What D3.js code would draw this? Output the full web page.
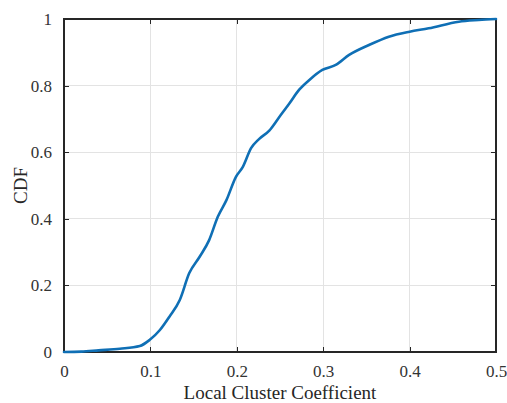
<!DOCTYPE html>
<html>
<head>
<meta charset="utf-8">
<script src="https://cdn.jsdelivr.net/npm/d3@7"></script>
<style>
  html, body { margin: 0; padding: 0; background: #fff; }
  svg { display: block; }
</style>
</head>
<body>
<svg id="chart" width="507" height="403"></svg>
<script>
// Empirical CDF of local cluster coefficients
const coeff = [0, 0.02, 0.04, 0.0646, 0.0877, 0.099, 0.111, 0.122, 0.134, 0.145, 0.157,
  0.168, 0.178, 0.188, 0.199, 0.207, 0.2165, 0.226, 0.2376, 0.249, 0.261, 0.272, 0.284,
  0.299, 0.3145, 0.33, 0.353, 0.376, 0.4, 0.422, 0.457, 0.48, 0.5];
const cdf = [0, 0.001, 0.005, 0.01, 0.018, 0.036, 0.066, 0.106, 0.156, 0.237, 0.286,
  0.336, 0.406, 0.456, 0.526, 0.556, 0.612, 0.64, 0.665, 0.705, 0.747, 0.787, 0.817,
  0.847, 0.862, 0.892, 0.922, 0.947, 0.962, 0.972, 0.992, 0.997, 1];
const xTicks = [0, 0.1, 0.2, 0.3, 0.4, 0.5];
const yTicks = [0, 0.2, 0.4, 0.6, 0.8, 1];

const margin = { left: 64, right: 11, top: 19, bottom: 51 };
const W = 507, H = 403;
const iw = W - margin.left - margin.right;
const ih = H - margin.top - margin.bottom;

const svg = d3.select("#chart");
const g = svg.append("g").attr("transform", `translate(${margin.left},${margin.top})`);

const x = d3.scaleLinear().domain([0, 0.5]).range([0, iw]);
const y = d3.scaleLinear().domain([0, 1]).range([ih, 0]);

const font = "Liberation Serif, Times New Roman, serif";
const axisColor = "#262626";

// grid
g.append("g").selectAll("line").data(xTicks).join("line")
  .attr("x1", d => x(d)).attr("x2", d => x(d))
  .attr("y1", 0).attr("y2", ih)
  .attr("stroke", "#e3e3e3").attr("stroke-width", 1).attr("shape-rendering", "crispEdges");
g.append("g").selectAll("line").data(yTicks).join("line")
  .attr("y1", d => y(d)).attr("y2", d => y(d))
  .attr("x1", 0).attr("x2", iw)
  .attr("stroke", "#e3e3e3").attr("stroke-width", 1).attr("shape-rendering", "crispEdges");

// axes with inward ticks on all four sides
function styleAxis(sel) {
  sel.attr("font-family", font).attr("font-size", 17);
  sel.select(".domain").remove();
  sel.selectAll(".tick line").attr("stroke", axisColor).attr("shape-rendering", "crispEdges");
  sel.selectAll(".tick text").attr("fill", "#333");
}
const fmt = d => d === 0 ? "0" : d === 1 ? "1" : d3.format("")(d);

g.append("g").attr("transform", `translate(0,${ih})`)
  .call(d3.axisBottom(x).tickValues(xTicks).tickFormat(fmt).tickSizeInner(-5).tickPadding(13))
  .call(styleAxis);
g.append("g")
  .call(d3.axisLeft(y).tickValues(yTicks).tickFormat(fmt).tickSizeInner(-5).tickPadding(12))
  .call(styleAxis);
g.append("g")
  .call(d3.axisTop(x).tickValues(xTicks).tickFormat("").tickSizeInner(-5))
  .call(styleAxis);
g.append("g").attr("transform", `translate(${iw},0)`)
  .call(d3.axisRight(y).tickValues(yTicks).tickFormat("").tickSizeInner(-5))
  .call(styleAxis);

// box
g.append("rect").attr("x", 0).attr("y", 0).attr("width", iw).attr("height", ih)
  .attr("fill", "none").attr("stroke", axisColor).attr("stroke-width", 1.3)
  .attr("shape-rendering", "crispEdges");

// CDF curve
const pts = coeff.map((c, i) => [c, cdf[i]]);
g.append("path").datum(pts)
  .attr("fill", "none").attr("stroke", "#0f6fb5").attr("stroke-width", 2.6)
  .attr("stroke-linejoin", "round").attr("stroke-linecap", "round")
  .attr("d", d3.line().curve(d3.curveMonotoneX).x(d => x(d[0])).y(d => y(d[1])));

// axis titles
svg.append("text")
  .attr("x", margin.left + iw / 2).attr("y", 399)
  .attr("text-anchor", "middle").attr("fill", axisColor)
  .attr("font-family", font).attr("font-size", 19)
  .text("Local Cluster Coefficient");
svg.append("text")
  .attr("transform", `translate(27,${margin.top + ih / 2}) rotate(-90)`)
  .attr("text-anchor", "middle").attr("fill", axisColor)
  .attr("font-family", font).attr("font-size", 19)
  .text("CDF");
</script>
</body>
</html>
